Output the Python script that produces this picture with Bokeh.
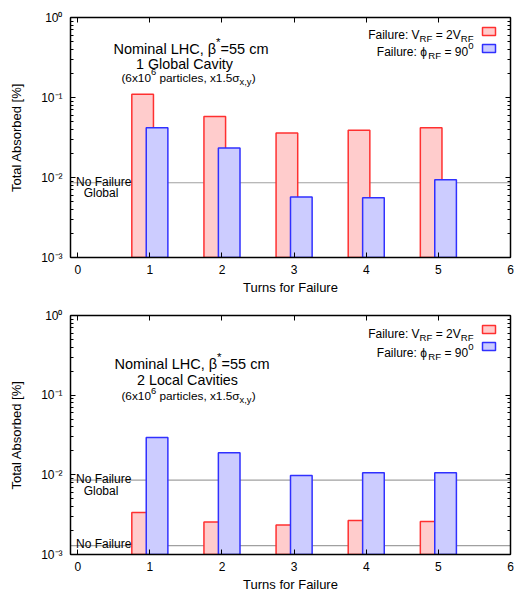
from math import log10, pi
from bokeh.plotting import figure
from bokeh.models import (Label, LogAxis, LinearAxis, FixedTicker, LogTicker,
                          Span, CustomJSTickFormatter, ColumnDataSource)
from bokeh.layouts import column
from bokeh.transform import dodge
from bokeh.embed import file_html
from bokeh.resources import INLINE

# ---------------- data ----------------
turns = [1, 2, 3, 4, 5]
global_vrf = [0.110, 0.058, 0.036, 0.039, 0.042]      # Failure: V_RF = 2V_RF (1 global cavity)
global_phi = [0.042, 0.0233, 0.0057, 0.0056, 0.0094]  # Failure: phi_RF = 90 (1 global cavity)
local_vrf = [0.00336, 0.00256, 0.00235, 0.00267, 0.00259]  # 2 local cavities
local_phi = [0.0295, 0.0189, 0.0098, 0.0106, 0.0106]
nofail_global = 0.0086
nofail_local = 0.00129
x_ticks = [0, 1, 2, 3, 4, 5, 6]
x_label = "Turns for Failure"
y_label = "Total Absorbed [%]"

FONT = "Liberation Sans"
X0, X1 = -0.1, 6.0
Y0, Y1 = 1e-3, 1.0
W_PX = 515
FW = 440
ML, MR = 70, 5

RED_FILL, RED_LINE = "#ffcccc", "#ff3030"
BLUE_FILL, BLUE_LINE = "#ccccff", "#3030ff"
GRAY = "#a0a0a0"

# Arial / Liberation Sans advance widths (1/1000 em)
AW = {' ': 278, '(': 333, ')': 333, '*': 389, ',': 278, '-': 333, '.': 278, ':': 278,
      '=': 584, '[': 278, ']': 278, '%': 889,
      'A': 667, 'C': 722, 'F': 611, 'G': 778, 'H': 722, 'L': 556, 'N': 722, 'R': 722,
      'T': 611, 'V': 667,
      'a': 556, 'b': 556, 'c': 500, 'd': 556, 'e': 556, 'f': 278, 'i': 222, 'l': 222,
      'm': 833, 'n': 556, 'o': 556, 'p': 556, 'r': 333, 's': 500, 't': 278, 'u': 556,
      'v': 500, 'x': 500, 'y': 500, 'β': 575, 'σ': 617, 'ϕ': 680}
for d in "0123456789":
    AW[d] = 556

LOG_LABEL_JS = """
const e = Math.round(Math.log10(tick));
const sup = {"-": "\u207b", "0": "\u2070", "1": "\u00b9", "2": "\u00b2", "3": "\u00b3",
             "4": "\u2074", "5": "\u2075", "6": "\u2076", "7": "\u2077", "8": "\u2078", "9": "\u2079"};
return "10" + String(e).split("").map((c) => sup[c]).join("");
"""


def tw(s, size):
    return sum(AW.get(c, 556) for c in s) * size / 1000.0


def xd(px):
    return X0 + px * (X1 - X0) / FW


def yd(py, FH):
    return 10 ** (log10(Y1) - py * (log10(Y1) - log10(Y0)) / FH)


def py_of(v, FH):
    return (log10(Y1) - log10(v)) * FH / (log10(Y1) - log10(Y0))


def put(p, x_px, y_px, text, size, align="left", angle=0.0):
    # position relative to the frame's top-left corner, in pixels (canvas units)
    p.add_layout(Label(x=ML + x_px, y=p.min_border_top + y_px,
                       x_units="canvas", y_units="canvas", angle=angle,
                       text=text, text_font=FONT, text_font_size=f"{size:.1f}px",
                       text_align=align, text_baseline="alphabetic",
                       text_color="#000000"))


def rich(p, x_px, base_px, segs, size, align="left"):
    scale = 0.8
    parts, total = [], 0.0
    for t, m in segs:
        s = size if m == "n" else size * scale
        w = tw(t, s)
        parts.append((t, m, s, w))
        total += w
    if align == "right":
        cur = x_px - total
    elif align == "center":
        cur = x_px - total / 2
    else:
        cur = x_px
    for t, m, s, w in parts:
        lead = len(t) - len(t.lstrip(" "))
        core = t.strip(" ")
        shift = {"n": 0.0, "sup": -0.45 * size, "sub": 0.33 * size}[m]
        if core:
            put(p, cur + tw(" " * lead, s), base_px + shift, core, s)
        cur += w


def style_axis(ax, labels):
    ax.axis_line_width = 1.5
    ax.axis_line_color = "black"
    ax.major_tick_line_color = "black"
    ax.minor_tick_line_color = "black"
    ax.major_tick_in = 5
    ax.major_tick_out = 0
    ax.minor_tick_in = 3
    ax.minor_tick_out = 0
    if labels:
        ax.major_label_text_font = FONT
        ax.major_label_text_font_size = "12px"
        ax.major_label_text_color = "black"
        ax.axis_label_text_font = FONT
        ax.axis_label_text_font_size = "13px"
        ax.axis_label_text_font_style = "normal"
        ax.axis_label_text_color = "black"
    else:
        ax.formatter = CustomJSTickFormatter(code="return ''")
        ax.major_label_text_font_size = "0px"
        ax.major_label_standoff = 0


def panel(height, top_b, bottom_b, vrf, phi, lines, title, legend):
    FH = height - top_b - bottom_b
    p = figure(width=W_PX, height=height, x_range=(X0, X1), y_range=(Y0, Y1),
               y_axis_type="log", output_backend="svg", toolbar_location=None,
               min_border_left=ML, min_border_right=MR, min_border_top=top_b,
               min_border_bottom=bottom_b)
    p.xgrid.visible = False
    p.ygrid.visible = False
    p.outline_line_color = None
    p.background_fill_color = "white"
    p.border_fill_color = "white"

    xa = p.xaxis[0]
    xa.ticker = FixedTicker(ticks=x_ticks)
    style_axis(xa, True)
    xa.minor_tick_in = 0
    xa.major_label_standoff = 7
    xa.axis_label = x_label
    xa.axis_label_standoff = 3

    ya = p.yaxis[0]
    ya.ticker = LogTicker(num_minor_ticks=10)
    style_axis(ya, True)
    ya.formatter = CustomJSTickFormatter(code=LOG_LABEL_JS)
    ya.major_label_standoff = 8
    ya.axis_label = y_label
    ya.axis_label_standoff = 14

    top_ax = LinearAxis(ticker=FixedTicker(ticks=x_ticks))
    style_axis(top_ax, False)
    top_ax.minor_tick_in = 0
    p.add_layout(top_ax, "above")

    right_ax = LogAxis(ticker=LogTicker(num_minor_ticks=10))
    style_axis(right_ax, False)
    p.add_layout(right_ax, "right")

    # reference lines (no failure)
    for val, labs in lines:
        p.add_layout(Span(location=val, dimension="width", line_color=GRAY,
                          line_width=1.2, level="underlay"))
        ly = py_of(val, FH)
        rich(p, 5.5, ly - 1.2, [("No Failure", "n")], 12, "left")
        for lab in labs:
            rich(p, 30.5, ly + 10.5, [(lab, "n")], 12, "center")

    src = ColumnDataSource(dict(turn=turns, vrf=vrf, phi=phi))
    p.vbar(x=dodge("turn", -0.1, range=p.x_range), width=0.3, bottom=Y0, top="vrf",
           source=src, fill_color=RED_FILL, line_color=RED_LINE, line_width=1.5)
    p.vbar(x=dodge("turn", 0.1, range=p.x_range), width=0.3, bottom=Y0, top="phi",
           source=src, fill_color=BLUE_FILL, line_color=BLUE_LINE, line_width=1.5)

    # title block
    (c1, b1), (c2, b2), (c3, b3) = title["pos"]
    rich(p, c1, b1, [("Nominal LHC, β", "n"), ("*", "sup"), ("=55 cm", "n")], 14.5, "center")
    rich(p, c2, b2, [(title["sub"], "n")], 14.3, "center")
    rich(p, c3, b3, [("(6x10", "n"), ("6", "sup"), (" particles, x1.5σ", "n"),
                     ("x,y", "sub"), (")", "n")], 11.8, "center")

    # legend
    (lb1, lb2), (st1, st2) = legend
    rich(p, 403, lb1, [("Failure: V", "n"), ("RF", "sub"), (" = 2V", "n"), ("RF", "sub")], 12, "right")
    rich(p, 403, lb2, [("Failure: ϕ", "n"), ("RF", "sub"), (" = 90", "n"), ("0", "sup")], 12, "right")
    p.quad(left=xd(412), right=xd(425), top=yd(st1, FH), bottom=yd(st1 + 8, FH),
           fill_color=RED_FILL, line_color=RED_LINE, line_width=1.5)
    p.quad(left=xd(412), right=xd(425), top=yd(st2, FH), bottom=yd(st2 + 8, FH),
           fill_color=BLUE_FILL, line_color=BLUE_LINE, line_width=1.5)
    return p


p1 = panel(300, 17, 43, global_vrf, global_phi,
           [(nofail_global, ["Global"])],
           {"pos": [(120.5, 31), (114, 46), (118, 60)], "sub": "1 Global Cavity"},
           ((17, 34), (10, 27)))
p2 = panel(294, 15, 40, local_vrf, local_phi,
           [(nofail_global, ["Global"]), (nofail_local, [])],
           {"pos": [(121.5, 48), (117, 64), (118, 80.5)], "sub": "2 Local Cavities"},
           ((18, 37), (10, 27)))

layout = column(p1, p2, spacing=0)
open("out.html", "w").write(file_html(layout, INLINE, title="Total absorbed"))
